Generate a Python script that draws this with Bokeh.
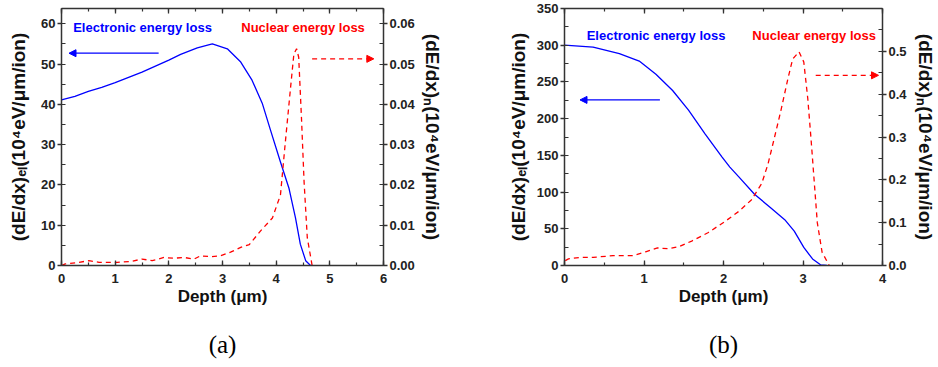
from bokeh.plotting import figure
from bokeh.models import (Range1d, LinearAxis, SingleIntervalTicker, NumeralTickFormatter,
                          FixedTicker, Label, Arrow, NormalHead)
from bokeh.layouts import row
from bokeh.embed import file_html
from bokeh.resources import INLINE

# ---------------- data: panel (a) ----------------
a_el_depth = [0, 0.25, 0.5, 0.75, 1.0, 1.25, 1.5, 1.75, 2.0, 2.22, 2.53, 2.81, 3.09, 3.34,
              3.55, 3.74, 3.89, 4.08, 4.24, 4.36, 4.45, 4.55, 4.64]
a_el_val = [41.1, 42.0, 43.2, 44.2, 45.4, 46.7, 48.0, 49.5, 51.0, 52.4, 54.0, 55.0, 53.8, 50.5,
            46.0, 40.3, 33.8, 25.7, 19.1, 11.8, 5.3, 1.2, 0.0]
a_n_depth = [0.0, 0.07, 0.29, 0.51, 0.70, 1.04, 1.29, 1.50, 1.69, 1.91, 2.09, 2.28, 2.47, 2.59, 2.78,
             2.96, 3.15, 3.34, 3.50, 3.71, 3.93, 4.08, 4.17, 4.27, 4.33, 4.38, 4.42, 4.47,
             4.52, 4.58, 4.67]
a_n_val = [0.0000, 0.0004, 0.0007, 0.0012, 0.0008, 0.0008, 0.0010, 0.0016, 0.0012, 0.0020, 0.0018,
           0.0020, 0.0016, 0.0024, 0.0022, 0.0024, 0.0033, 0.0045, 0.0052, 0.0086, 0.0118, 0.0175,
           0.0305, 0.0444, 0.0525, 0.0538, 0.0517, 0.0371, 0.0208, 0.0069, 0.0000]

# ---------------- data: panel (b) ----------------
b_el_depth = [0, 0.36, 0.69, 0.94, 1.15, 1.36, 1.56, 1.77, 1.98, 2.08, 2.19, 2.39, 2.60, 2.77, 2.89,
              3.01, 3.12, 3.22, 3.30]
b_el_val = [300, 297.5, 288.5, 278.4, 260.5, 238.3, 211.6, 179.0, 148.0, 134.0, 121.0, 97.0, 78.0,
            62.4, 46.8, 24.6, 8.9, 0.9, 0]
b_n_depth = [0.01, 0.05, 0.2, 0.36, 0.61, 0.86, 1.02, 1.17, 1.31, 1.44, 1.6, 1.81, 2.02, 2.19,
             2.35, 2.48, 2.56, 2.64, 2.72, 2.81, 2.87, 2.95, 3.01, 3.06, 3.10, 3.14, 3.18, 3.24, 3.33]
b_n_val = [0.0115, 0.0154, 0.019, 0.019, 0.023, 0.023, 0.032, 0.041, 0.039, 0.044, 0.057, 0.077,
           0.103, 0.126, 0.153, 0.191, 0.237, 0.298, 0.360, 0.436, 0.482, 0.499, 0.475, 0.390,
           0.298, 0.199, 0.100, 0.031, 0.0]

x_label = "Depth (\u03bcm)"
yl_label = "(dE/dx)\u2091\u2097(10\u2074eV/\u03bcm/ion)"
yr_label = "(dE/dx)\u2099(10\u2074eV/\u03bcm/ion)"
legend_el = "Electronic energy loss"
legend_n = "Nuclear energy loss"
captions = ["(a)", "(b)"]

FONT = "Liberation Sans"
AX_COLOR = "#333333"
BLUE = "#0000ff"
RED = "#ff0000"


def style_axis(ax, kind):
    ax.axis_line_color = AX_COLOR
    ax.axis_line_width = 1.5
    ax.major_tick_line_color = AX_COLOR
    ax.minor_tick_line_color = AX_COLOR
    ax.major_tick_line_width = 1.3
    ax.minor_tick_line_width = 1.2
    ax.major_label_text_font = FONT
    ax.major_label_text_font_style = "bold"
    ax.major_label_text_font_size = "13px"
    ax.major_label_text_color = "#222222"
    ax.axis_label_text_font = FONT
    ax.axis_label_text_font_style = "bold"
    ax.axis_label_text_color = "#111111"
    if kind == "y":
        ax.major_tick_out = 4
        ax.major_tick_in = 0
        ax.minor_tick_in = 4
        ax.minor_tick_out = 0
        ax.major_label_standoff = 2
        ax.axis_label_text_font_size = "19px"
    elif kind == "x":
        ax.major_tick_in = 5
        ax.major_tick_out = 0
        ax.minor_tick_in = 3
        ax.minor_tick_out = 0
        ax.major_label_standoff = 8
        ax.axis_label_text_font_size = "17px"
        ax.axis_label_standoff = 1
    elif kind == "top":
        ax.major_tick_in = 5
        ax.major_tick_out = 0
        ax.minor_tick_in = 3
        ax.minor_tick_out = 0
        ax.major_label_text_font_size = "1px"
        ax.major_label_text_color = None
        ax.major_label_standoff = 0
        ax.axis_label = None


def make_panel(width, xmax, ymax, ymax_n, xint, yint, nint, nfmt,
               mbl, mbr, mbt, mbb, lstand, rstand, caption, cap_stand):
    p = figure(width=width, height=367, output_backend="svg", toolbar_location=None,
               x_range=Range1d(0, xmax), y_range=Range1d(0, ymax),
               min_border_left=mbl, min_border_right=mbr, min_border_top=mbt,
               min_border_bottom=mbb, x_axis_type=None, y_axis_type=None)
    p.extra_y_ranges = {"n": Range1d(0, ymax_n)}
    p.xgrid.visible = False
    p.ygrid.visible = False
    p.outline_line_color = None
    p.background_fill_color = "white"
    p.border_fill_color = "white"

    xb = LinearAxis(ticker=SingleIntervalTicker(interval=xint, num_minor_ticks=2), axis_label=x_label)
    style_axis(xb, "x")
    p.add_layout(xb, "below")
    # caption "(a)" / "(b)" below the x axis title
    cap = LinearAxis(ticker=FixedTicker(ticks=[]), axis_label=caption,
                     axis_line_color=None, major_tick_line_color=None, minor_tick_line_color=None,
                     major_label_standoff=0, major_label_text_font_size="1px",
                     major_label_text_color=None,
                     axis_label_text_font="Liberation Serif", axis_label_text_font_style="normal",
                     axis_label_text_font_size="25px", axis_label_text_color="black",
                     axis_label_standoff=cap_stand)
    p.add_layout(cap, "below")
    xt = LinearAxis(ticker=SingleIntervalTicker(interval=xint, num_minor_ticks=2))
    style_axis(xt, "top")
    p.add_layout(xt, "above")
    yl = LinearAxis(ticker=SingleIntervalTicker(interval=yint, num_minor_ticks=2), axis_label=yl_label)
    style_axis(yl, "y")
    yl.axis_label_standoff = lstand
    p.add_layout(yl, "left")
    yr = LinearAxis(y_range_name="n", ticker=SingleIntervalTicker(interval=nint, num_minor_ticks=2),
                    axis_label=yr_label, formatter=NumeralTickFormatter(format=nfmt))
    style_axis(yr, "y")
    yr.axis_label_standoff = rstand
    p.add_layout(yr, "right")
    return p


# ---------------- panel (a) ----------------
pa = make_panel(470, 6, 63.8, 0.0638, 1, 10, 0.01, "0.00", 61, 87, 4, 102, 9, 4, captions[0], 22)
pa.line(a_el_depth, a_el_val, line_color=BLUE, line_width=1.3)
pa.line(a_n_depth, a_n_val, y_range_name="n", line_color=RED, line_width=1.3, line_dash="5 4")
pa.add_layout(Arrow(x_start=1.81, y_start=52.7, x_end=0.14, y_end=52.7, line_color=BLUE, line_width=1.3,
                    end=NormalHead(size=7, fill_color=BLUE, line_color=BLUE, line_width=1)))
pa.add_layout(Arrow(x_start=4.67, y_start=0.0513, x_end=5.82, y_end=0.0513, y_range_name="n",
                    line_color=RED, line_width=1.3, line_dash="5 4",
                    end=NormalHead(size=7, fill_color=RED, line_color=RED, line_width=1)))
pa.add_layout(Label(x=0.217, y=59.07, text=legend_el, text_color=BLUE, text_font=FONT,
                    text_font_style="bold", text_font_size="13px", text_baseline="middle"))
pa.add_layout(Label(x=3.35, y=59.07, text=legend_n, text_color=RED, text_font=FONT,
                    text_font_style="bold", text_font_size="13px", text_baseline="middle"))

# ---------------- panel (b) ----------------
pb = make_panel(468, 4, 350, 0.6, 1, 50, 0.1, "0.0", 94, 52, 8, 100, 5, 5, captions[1], 22)
pb.line(b_el_depth, b_el_val, line_color=BLUE, line_width=1.3)
pb.line(b_n_depth, b_n_val, y_range_name="n", line_color=RED, line_width=1.3, line_dash="5 4")
pb.add_layout(Arrow(x_start=1.2, y_start=225.5, x_end=0.195, y_end=225.5, line_color=BLUE, line_width=1.3,
                    end=NormalHead(size=7, fill_color=BLUE, line_color=BLUE, line_width=1)))
pb.add_layout(Arrow(x_start=3.16, y_start=0.444, x_end=3.95, y_end=0.444, y_range_name="n",
                    line_color=RED, line_width=1.3, line_dash="5 4",
                    end=NormalHead(size=7, fill_color=RED, line_color=RED, line_width=1)))
pb.add_layout(Label(x=0.279, y=313.9, text=legend_el, text_color=BLUE, text_font=FONT,
                    text_font_style="bold", text_font_size="13px", text_baseline="middle"))
pb.add_layout(Label(x=2.363, y=313.9, text=legend_n, text_color=RED, text_font=FONT,
                    text_font_style="bold", text_font_size="13px", text_baseline="middle"))

layout = row(pa, pb)
open("out.html", "w").write(file_html(layout, INLINE))
